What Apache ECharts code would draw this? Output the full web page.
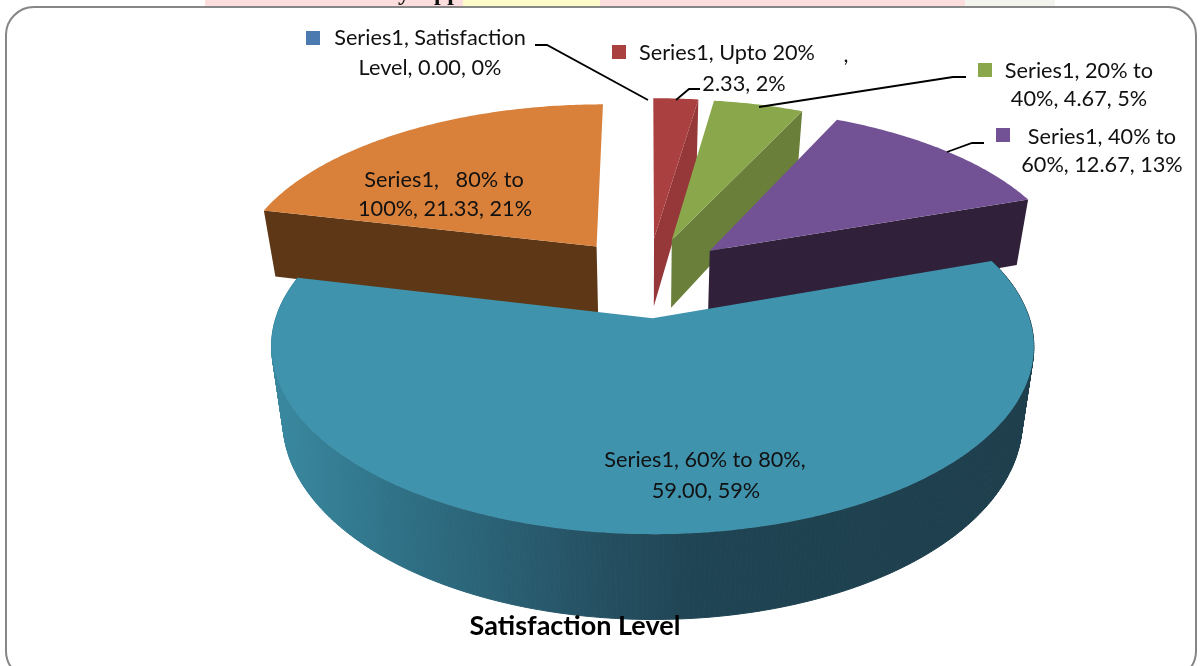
<!DOCTYPE html>
<html><head><meta charset="utf-8">
<style>html,body{margin:0;padding:0;background:#fff}#c{width:1200px;height:666px}</style>
<script src="https://cdn.jsdelivr.net/npm/echarts@6/dist/echarts.min.js"></script>
</head><body><div id="c"></div>
<script>
// ---- data ----
const categories = ['Satisfaction Level','Upto 20%','20% to 40%','40% to 60%','60% to 80%','80% to 100%'];
const values = [0.00, 2.33, 4.67, 12.67, 59.00, 21.33];
const seriesName = 'Series1';
const chartTitle = 'Satisfaction Level';
const labelSat = ['Series1, Satisfaction','Level, 0.00, 0%'];
const labelUpto = ['Series1, Upto 20%','2.33, 2%'];
const label20 = ['Series1, 20% to','40%, 4.67, 5%'];
const label40 = ['Series1, 40% to','60%, 12.67, 13%'];
const label60 = ['Series1, 60% to 80%,','59.00, 59%'];
const label80 = ['Series1,   80% to','100%, 21.33, 21%'];
const topColors = ['#4a7ab0','#ab4040','#8aa84b','#725294','#3f93ad','#d9803a'];
const sideColors = ['#38608c','#96383a','#697f3a','#312039','#2a6074','#5e3816'];

// ---- 3D projection of the exploded pie ----
const CX=648, CY=277, R=364, EXPLODE=85, KY=0.47, Q=0.0004, T=70, BOTTOM=0.97;
const total = values.reduce((a,b)=>a+b,0);
const angles=[]; { let acc=0; values.forEach(v=>{angles.push([acc/total*2*Math.PI,(acc+v)/total*2*Math.PI]);acc+=v;}); }
function proj(x,z,low){
  const s=1/(1+Q*z);
  let px=CX+x*s, py=CY-KY*z*s;
  if(low){ px=CX+(px-CX)*BOTTOM; py+=T*s; }
  return [px,py];
}
function rim(i,th,low){
  const m=(angles[i][0]+angles[i][1])/2;
  return proj(EXPLODE*Math.sin(m)+R*Math.sin(th), EXPLODE*Math.cos(m)+R*Math.cos(th), low);
}
function apex(i,low){
  const m=(angles[i][0]+angles[i][1])/2;
  return proj(EXPLODE*Math.sin(m), EXPLODE*Math.cos(m), low);
}
// shading of the curved wall, left to right
const wallFill={type:'linear',x:283,y:0,x2:1040,y2:0,global:true,colorStops:[
  {offset:0,color:'rgb(56,135,158)'},{offset:0.155,color:'rgb(47,113,134)'},{offset:0.287,color:'rgb(42,96,116)'},
  {offset:0.419,color:'rgb(37,80,98)'},{offset:0.551,color:'rgb(31,68,83)'},{offset:1,color:'rgb(30,62,76)'}]};
const drawOrder=[5,0,1,2,3,4];
function renderItem(params){
  const i=drawOrder[params.dataIndex];
  const [a0,a1]=angles[i];
  if(a1-a0<=0) return {type:'group',children:[]};
  const kids=[];
  const N=Math.max(4,Math.round((a1-a0)/0.012));
  const poly=(pts,col,line)=>kids.push({type:'polygon',shape:{points:pts},style:{fill:col,stroke:line?col:null,lineWidth:line||0}});
  // curved outer wall: only the front slice shows it
  if(i===4){
    for(let k=0;k<N;k++){
      const t0=a0+(a1-a0)*k/N,t1=a0+(a1-a0)*(k+1)/N;
      poly([rim(i,t0),rim(i,t1),rim(i,t1,true),rim(i,t0,true)],wallFill,1);
    }
  }
  // visible cut face
  if(i===1||i===2||i===3) poly([apex(i),rim(i,a1),rim(i,a1,true),apex(i,true)],sideColors[i]);
  if(i===5) poly([apex(i),rim(i,a0),rim(i,a0,true),apex(i,true)],sideColors[i]);
  // top face
  const top=[apex(i)];
  for(let k=0;k<=N;k++) top.push(rim(i,a0+(a1-a0)*k/N));
  poly(top,topColors[i]);
  return {type:'group',children:kids};
}

const FONT='Lato, "Noto Sans", sans-serif';
function txt(s,x,y,align,extra){
  return {type:'text',z:20,style:Object.assign({text:s,x:x,y:y,align:align||'center',verticalAlign:'middle',fill:'#111',fontFamily:FONT,fontSize:21.7},extra||{})};
}
function leader(pts){ return {type:'polyline',z:19,shape:{points:pts},style:{stroke:'#000',lineWidth:1.8,fill:'none'}}; }
function key(x,y,c){ return {type:'rect',z:19,shape:{x:x,y:y,width:14,height:14},style:{fill:c}}; }

const graphics=[
  {type:'rect',z:1,shape:{x:205,y:0,width:760,height:7},style:{fill:'#fddede'}},
  {type:'rect',z:1,shape:{x:463,y:0,width:137,height:7},style:{fill:'#fdfcc8'}},
  {type:'rect',z:1,shape:{x:965,y:0,width:90,height:7},style:{fill:'#f4f4ee'}},
  {type:'text',z:2,style:{text:'y  app',x:398,y:-18,fontFamily:'"Liberation Serif",serif',fontWeight:'bold',fontSize:24,fill:'#111',verticalAlign:'top'}},
  {type:'rect',z:3,shape:{x:6,y:7,width:1190,height:672,r:28},style:{fill:'#fff',stroke:'#868686',lineWidth:2}},
  key(306,31,topColors[0]),key(612,45,topColors[1]),key(978,63,topColors[2]),key(996,128,topColors[3]),
  leader([[535,45],[547,45],[648,100]]),
  leader([[676,100],[689,89],[700,89]]),
  leader([[759,107],[953,77],[966,77]]),
  leader([[947,152],[972,143],[984,143]]),
  txt(labelSat[0],430,38),txt(labelSat[1],430,68),
  txt(labelUpto[0],727,53),txt(',',846,55),txt(labelUpto[1],744,84),
  txt(label20[0],1079,71),txt(label20[1],1079,99),
  txt(label40[0],1102,137),txt(label40[1],1102,165),
  txt(label60[0],705,460),txt(label60[1],706,491),
  txt(label80[0],444,180),txt(label80[1],445,209),
  txt(chartTitle,575,626,'center',{fontWeight:'bold',fontSize:27,fill:'#000'})
];

const chart=echarts.init(document.getElementById('c'),null,{renderer:'canvas'});
chart.setOption({
  animation:false,
  backgroundColor:'#fff',
  graphic:{elements:graphics},
  series:[{type:'custom',name:seriesName,coordinateSystem:'none',z:10,silent:true,clip:false,
    renderItem:renderItem,
    data:drawOrder.map(i=>({name:categories[i],value:values[i]}))}]
});
</script></body></html>
